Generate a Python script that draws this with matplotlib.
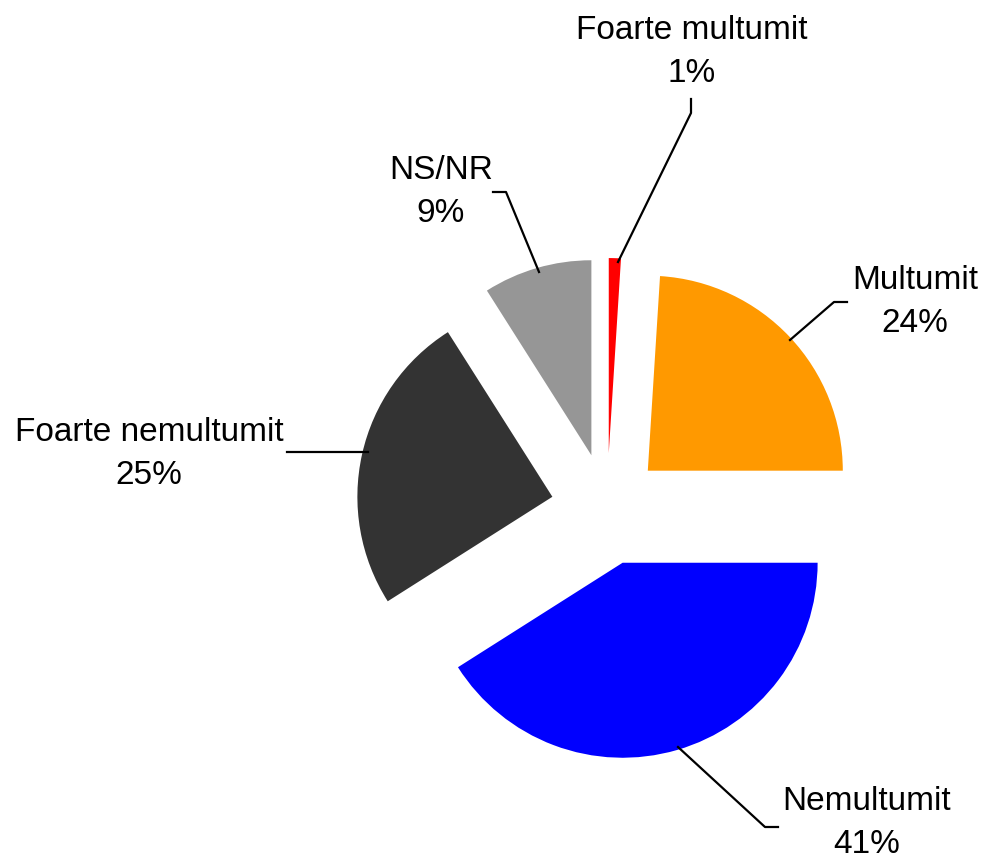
import matplotlib
matplotlib.use("Agg")
import matplotlib.pyplot as plt

# Data
labels = ["Foarte multumit", "Multumit", "Nemultumit", "Foarte nemultumit", "NS/NR"]
values = [1, 24, 41, 25, 9]
colors = ["#ff0000", "#ff9900", "#0000ff", "#333333", "#969696"]

plt.rcParams['font.family'] = ['Liberation Sans', 'DejaVu Sans']

W, H = 986, 860
cx, cy, R = 607, 509, 195   # pie centre / radius in pixels


def px(x, y):
    # reference pixel -> data units (radius = 1)
    return (x - cx) / R, (cy - y) / R


fig = plt.figure(figsize=(W / 100, H / 100), dpi=100)
ax = fig.add_axes([0, 0, 1, 1])

ax.pie(values, colors=colors, startangle=90, counterclock=False,
       explode=[0.287] * len(values), radius=1,
       wedgeprops=dict(linewidth=0))

ax.set_xlim(px(0, 0)[0], px(W, 0)[0])
ax.set_ylim(px(0, H)[1], px(0, 0)[1])
ax.set_aspect('auto')
ax.axis('off')

# label text centres and leader lines (pixel coords of the reference)
label_pos = [(692, 52), (915, 302), (867, 823), (149, 454), (441, 192)]
leaders = [
    [(618, 262), (691, 113), (691, 99)],
    [(790, 340), (834, 302), (847, 302)],
    [(678, 747), (765, 827), (778, 827)],
    [(368, 452), (287, 452)],
    [(539, 272), (506, 192), (493, 192)],
]

for lab, v, (x, y) in zip(labels, values, label_pos):
    ax.text(*px(x, y), f"{lab}\n{v}%", ha='center', va='center',
            fontsize=24, linespacing=1.5)

for pts in leaders:
    xs, ys = zip(*[px(x, y) for x, y in pts])
    ax.plot(xs, ys, color='black', lw=1.6)

fig.savefig("out.png", dpi=100)
